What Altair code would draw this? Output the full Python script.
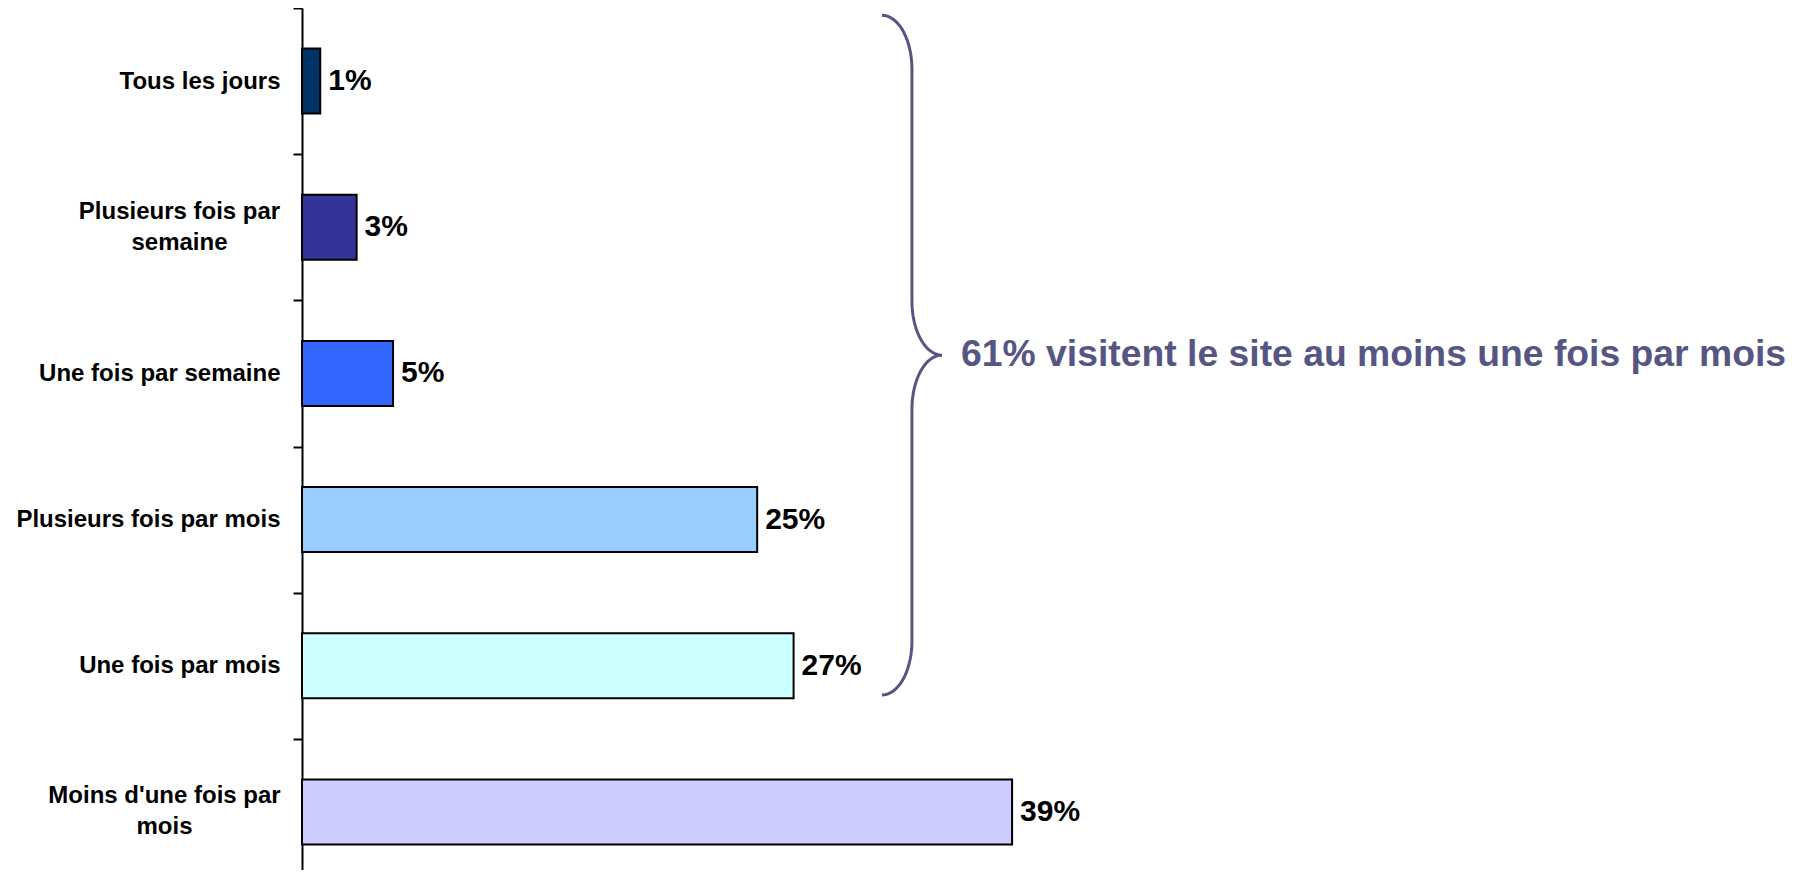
import json
import numpy as np
import pandas as pd
import altair as alt

# ---------------- data ----------------
categories = [
    "Tous les jours",
    "Plusieurs fois par semaine",
    "Une fois par semaine",
    "Plusieurs fois par mois",
    "Une fois par mois",
    "Moins d'une fois par mois",
]
values = [1, 3, 5, 25, 27, 39]
value_labels = ["1%", "3%", "5%", "25%", "27%", "39%"]
colors = ["#003366", "#333399", "#3366FF", "#99CCFF", "#CCFFFF", "#CCCCFF"]

label_lines = {
    "Plusieurs fois par semaine": ["Plusieurs fois par", "semaine"],
    "Moins d'une fois par mois": ["Moins d'une fois par", "mois"],
}

annotation_text = "61% visitent le site au moins une fois par mois"

# brace (data units: x in %, y in category-index units from the top)
brace_x = 33.5
brace_depth = 1.65
brace_top = 0.05
brace_bottom = 4.70
brace_curl = 0.37
annot_x = 36.2

# ---------------- styles ----------------
FONT = "Liberation Sans"
BRACE_COLOR = "#565685"
X_MAX = 82
Y_RANGE = [0, 877]
STEP = Y_RANGE[1] / len(categories)
LINE_H = 31

# ---------------- build brace path ----------------
def arc(cx, cy, t0, t1, n=24):
    t = np.radians(np.linspace(t0, t1, n))
    return list(cx + brace_depth * np.cos(t)), list(cy + brace_curl * np.sin(t))

mid = (brace_top + brace_bottom) / 2
bxs, bys = [], []
for cx, cy, t0, t1 in [
    (brace_x - brace_depth, brace_top + brace_curl, -90, 0),
    (brace_x + brace_depth, mid - brace_curl, 180, 90),
    (brace_x + brace_depth, mid + brace_curl, 270, 180),
    (brace_x - brace_depth, brace_bottom - brace_curl, 0, 90),
]:
    xs, ys = arc(cx, cy, t0, t1)
    bxs += xs
    bys += ys
brace_df = pd.DataFrame({"bx": bxs, "by": bys, "order": list(range(len(bxs)))})

df = pd.DataFrame({"category": categories, "value": values,
                   "label": value_labels})

band_scale = alt.Scale(domain=categories, range=Y_RANGE,
                       paddingInner=0.555, paddingOuter=0.2775)
x_scale = alt.Scale(domain=[0, X_MAX])
lin_y = alt.Scale(domain=[0, 6], range=Y_RANGE)

common_label = dict(labelFont=FONT, labelFontSize=24, labelFontWeight="bold",
                    labelColor="black", labelBaseline="middle",
                    labelLineHeight=LINE_H, labelLimit=0, title=None, grid=False,
                    orient="left", tickSize=9)

multi_test = " || ".join(f"datum.value == {json.dumps(k)}" for k in label_lines)

# main axis: single-line labels, ticks at band boundaries and axis line
axis_main = alt.Axis(
    labelExpr=f"({multi_test}) ? '' : datum.label",
    labelAlign="right", labelPadding=13,
    tickOffset=-STEP / 2, labelOffset=STEP / 2,
    tickWidth=2, tickColor="black", domainColor="black", domainWidth=2,
    **common_label,
)

def multi_axis(key, pad):
    return alt.Axis(
        labelExpr=f"datum.value == {json.dumps(key)} ? {json.dumps(label_lines[key])} : ''",
        labelAlign="center", labelPadding=pad, labelOffset=-LINE_H / 2,
        ticks=True, tickOpacity=0, domain=False,
        **common_label,
    )

bars = alt.Chart(df).mark_bar(stroke="black", strokeWidth=2).encode(
    x=alt.X("value:Q", scale=x_scale, axis=None),
    y=alt.Y("category:N", sort=categories, scale=band_scale, axis=axis_main),
    color=alt.Color("category:N", scale=alt.Scale(domain=categories, range=colors),
                    legend=None),
)

vals = alt.Chart(df).mark_text(
    align="left", baseline="middle", dx=8, font=FONT, fontSize=30,
    fontWeight="bold", color="black",
).encode(
    x=alt.X("value:Q", scale=x_scale, axis=None),
    y=alt.Y("category:N", sort=categories, scale=band_scale,
            axis=multi_axis("Plusieurs fois par semaine", 114)),
    text="label:N",
)

ghost = alt.Chart(df).mark_point(opacity=0).encode(
    x=alt.X("value:Q", scale=x_scale, axis=None),
    y=alt.Y("category:N", sort=categories, scale=band_scale,
            axis=multi_axis("Moins d'une fois par mois", 129)),
)

brace = alt.Chart(brace_df).mark_line(color=BRACE_COLOR, strokeWidth=3).encode(
    x=alt.X("bx:Q", scale=x_scale, axis=None),
    y=alt.Y("by:Q", scale=lin_y, axis=None),
    order="order:Q",
)

annot = alt.Chart(pd.DataFrame({"ax": [annot_x], "ay": [mid], "t": [annotation_text]})).mark_text(
    align="left", baseline="middle", dy=0, font=FONT, fontSize=37.3,
    fontWeight="bold", color=BRACE_COLOR,
).encode(
    x=alt.X("ax:Q", scale=x_scale, axis=None),
    y=alt.Y("ay:Q", scale=lin_y, axis=None),
    text="t:N",
)

left = alt.layer(bars, vals, ghost).resolve_axis(y="independent")
right = alt.layer(brace, annot)

chart = alt.layer(left, right).resolve_scale(y="independent").properties(
    width=1493, height=862,
    padding={"left": 294, "top": 0, "right": 0, "bottom": 0},
    autosize=alt.AutoSizeParams(type="none"),
    background="white",
).configure_view(stroke=None)

chart.save("out.html", embed_options={"renderer": "svg", "actions": False})
